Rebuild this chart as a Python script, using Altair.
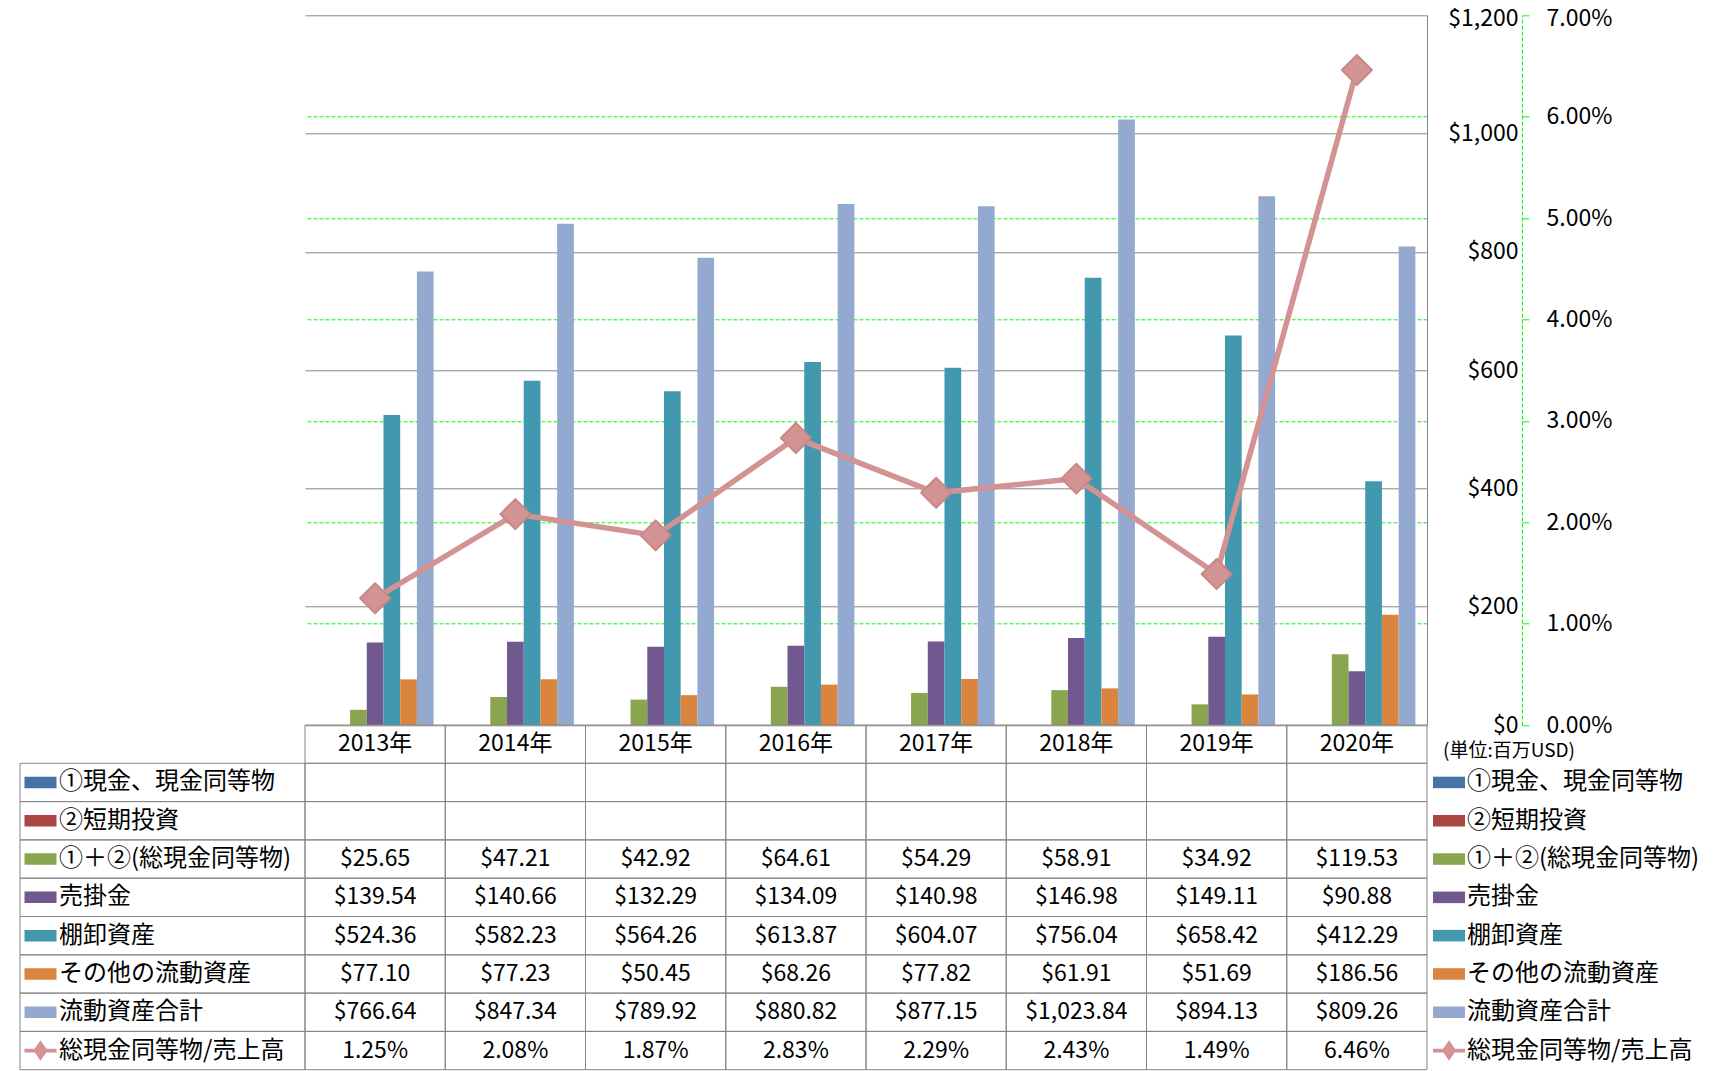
import altair as alt
import pandas as pd

# ---------------- data ----------------
years = ["2013年", "2014年", "2015年", "2016年", "2017年", "2018年", "2019年", "2020年"]
series_names = ["①現金、現金同等物", "②短期投資", "①＋②(総現金同等物)", "売掛金",
                "棚卸資産", "その他の流動資産", "流動資産合計"]
ratio_name = "総現金同等物/売上高"

cash_eq = [None] * 8
short_inv = [None] * 8
total_cash = [25.65, 47.21, 42.92, 64.61, 54.29, 58.91, 34.92, 119.53]
receivables = [139.54, 140.66, 132.29, 134.09, 140.98, 146.98, 149.11, 90.88]
inventory = [524.36, 582.23, 564.26, 613.87, 604.07, 756.04, 658.42, 412.29]
other_current = [77.10, 77.23, 50.45, 68.26, 77.82, 61.91, 51.69, 186.56]
total_current = [766.64, 847.34, 789.92, 880.82, 877.15, 1023.84, 894.13, 809.26]
cash_to_sales_pct = [1.25, 2.08, 1.87, 2.83, 2.29, 2.43, 1.49, 6.46]

usd_ticks = [0, 200, 400, 600, 800, 1000, 1200]
pct_ticks = [0, 1, 2, 3, 4, 5, 6, 7]
unit_note = "(単位:百万USD)"

# ---------------- styles ----------------
bar_colors = ["#4572A7", "#AA4643", "#89A54E", "#71588F", "#4198AF", "#DB843D", "#93A9CF"]
line_color = "#D39392"
marker_stroke = "#C98888"
GRAY = "#868686"
GREEN = "#00FF00"
FONT = "Noto Sans CJK JP"

# ---------------- layout ----------------
PLOT_W = 1122
PLOT_H = 709.7
ROW_H = 38.3
N_ROWS = 9                      # header + 8 data rows
COL_PX = PLOT_W / len(years)
LABEL_W = 285 / COL_PX          # label column width in column units
LEFT_SWATCH_X = -(305 - 40.5) / COL_PX
LEFT_TEXT_X = -(305 - 59) / COL_PX
RIGHT_SWATCH_X = (1449 - 305) / COL_PX
RIGHT_TEXT_X = (1467 - 305) / COL_PX
NOTE_X = (1443 - 305) / COL_PX
NOTE_Y = 0.69

RECT_PATH = "M-1,-0.36H1V0.36H-1Z"
LINE_PATH = "M-1,-0.12H1V0.12H-1Z M0,-0.64L0.44,0L0,0.64L-0.44,0Z"

# ---------------- frames ----------------
bar_values = [cash_eq, short_inv, total_cash, receivables, inventory, other_current, total_current]
bar_rows = []
for name, vals in zip(series_names, bar_values):
    for yr, v in zip(years, vals):
        bar_rows.append({"year": yr, "series": name, "value": v})
bar_df = pd.DataFrame(bar_rows)

ratio_df = pd.DataFrame({"year": years, "ratio": [v / 100 for v in cash_to_sales_pct]})

all_names = series_names + [ratio_name]
all_values = bar_values + [cash_to_sales_pct]
all_colors = bar_colors + [line_color]

cells = []
for c in range(len(years)):
    cells.append({"x0": c, "x1": c + 1, "y0": 0, "y1": 1})
for r in range(1, N_ROWS):
    cells.append({"x0": -LABEL_W, "x1": 0, "y0": r, "y1": r + 1})
    for c in range(len(years)):
        cells.append({"x0": c, "x1": c + 1, "y0": r, "y1": r + 1})
cells_df = pd.DataFrame(cells)

ctext = [{"x": c + 0.5, "y": 0.5, "t": yr} for c, yr in enumerate(years)]
for r, (name, vals) in enumerate(zip(all_names, all_values), start=1):
    for c, v in enumerate(vals):
        if v is None:
            continue
        t = f"{v:.2f}%" if name == ratio_name else f"${v:,.2f}"
        ctext.append({"x": c + 0.5, "y": r + 0.5, "t": t})
ctext_df = pd.DataFrame(ctext)

ltext = []
sw = []
for r, name in enumerate(all_names, start=1):
    kind = "line" if name == ratio_name else "bar"
    ltext.append({"x": LEFT_TEXT_X, "y": r + 0.5, "t": name})
    ltext.append({"x": RIGHT_TEXT_X, "y": r + 0.5, "t": name})
    sw.append({"x": LEFT_SWATCH_X, "y": r + 0.5, "series": name, "kind": kind})
    sw.append({"x": RIGHT_SWATCH_X, "y": r + 0.5, "series": name, "kind": kind})
ltext_df = pd.DataFrame(ltext)
sw_df = pd.DataFrame(sw)
note_df = pd.DataFrame([{"x": NOTE_X, "y": NOTE_Y, "t": unit_note}])

# ---------------- scales ----------------
color_scale = alt.Scale(domain=all_names, range=all_colors)
xs_t = alt.Scale(domain=[0, len(years)], nice=False, zero=False)
ys_t = alt.Scale(domain=[0, N_ROWS], range=[PLOT_H, PLOT_H + N_ROWS * ROW_H], nice=False, zero=False)

# ---------------- plot ----------------
bars = alt.Chart(bar_df).mark_bar().encode(
    x=alt.X("year:N", sort=years, title=None, axis=None,
            scale=alt.Scale(domain=years, paddingInner=0.166, paddingOuter=0.083)),
    xOffset=alt.XOffset("series:N", sort=series_names,
                        scale=alt.Scale(domain=series_names, paddingInner=0, paddingOuter=0)),
    y=alt.Y("value:Q", title=None,
            scale=alt.Scale(domain=[0, 1200], nice=False, zero=True),
            axis=alt.Axis(orient="right", values=usd_ticks, format="$,d", grid=True,
                          gridColor=GRAY, gridWidth=1, domain=True, domainColor=GRAY,
                          ticks=False, tickSize=0, labelPadding=91, labelAlign="right",
                          labelOffset={"condition": {"test": "datum.value >= 1200", "value": 3},
                                       "value": 0})),
    color=alt.Color("series:N", scale=color_scale, legend=None),
)

pct_scale = alt.Scale(domain=[0, 0.07], nice=False, zero=True)
pct_axis = alt.Axis(orient="right", offset=95, values=[v / 100 for v in pct_ticks],
                    format=".2%", grid=True, gridColor=GREEN, gridDash=[4, 2], gridWidth=1,
                    gridOpacity={"condition": {"test": "datum.value >= 0.0699 || datum.value <= 0.0001",
                                               "value": 0},
                                 "value": 1},
                    domain=True, domainColor=GREEN, domainDash=[4, 2],
                    ticks=True, tickColor=GREEN, tickSize=7, labelPadding=17,
                    labelAlign="left",
                    labelOffset={"condition": {"test": "datum.value >= 0.0699", "value": 3},
                                 "value": 0})
ratio_base = alt.Chart(ratio_df).encode(
    x=alt.X("year:N", sort=years),
    y=alt.Y("ratio:Q", title=None, scale=pct_scale, axis=pct_axis),
)
line = ratio_base.mark_line(color=line_color, strokeWidth=5.5)
pts = ratio_base.mark_point(shape="diamond", filled=True, size=900, opacity=1,
                            fill=line_color, stroke=marker_stroke, strokeWidth=2,
                            strokeJoin="round")

plot = alt.layer(bars, alt.layer(line, pts)).resolve_scale(y="independent")

# ---------------- data table ----------------
cell_layer = alt.Chart(cells_df).mark_rect(fillOpacity=0, stroke=GRAY, strokeWidth=1).encode(
    x=alt.X("x0:Q", scale=xs_t, axis=None), x2="x1:Q",
    y=alt.Y("y0:Q", scale=ys_t, axis=None), y2="y1:Q",
)
ctext_layer = alt.Chart(ctext_df).mark_text(font=FONT, fontSize=23, color="black",
                                            align="center", baseline="middle").encode(
    x=alt.X("x:Q", scale=xs_t, axis=None),
    y=alt.Y("y:Q", scale=ys_t, axis=None),
    text="t:N",
)
ltext_layer = alt.Chart(ltext_df).mark_text(font=FONT, fontSize=24, color="black",
                                            align="left", baseline="middle").encode(
    x=alt.X("x:Q", scale=xs_t, axis=None),
    y=alt.Y("y:Q", scale=ys_t, axis=None),
    text="t:N",
)
sw_layer = alt.Chart(sw_df).mark_point(filled=True, opacity=1, size=1024).encode(
    x=alt.X("x:Q", scale=xs_t, axis=None),
    y=alt.Y("y:Q", scale=ys_t, axis=None),
    color=alt.Color("series:N", scale=color_scale, legend=None),
    shape=alt.Shape("kind:N", scale=alt.Scale(domain=["bar", "line"], range=[RECT_PATH, LINE_PATH]),
                    legend=None),
)
note_layer = alt.Chart(note_df).mark_text(font=FONT, fontSize=19, color="black",
                                          align="left", baseline="middle").encode(
    x=alt.X("x:Q", scale=xs_t, axis=None),
    y=alt.Y("y:Q", scale=ys_t, axis=None),
    text="t:N",
)
table = alt.layer(cell_layer, ctext_layer, ltext_layer, sw_layer, note_layer)

chart = alt.layer(plot, table).resolve_scale(x="independent", y="independent").properties(
    width=PLOT_W, height=PLOT_H,
    padding={"left": 297, "top": 7.3, "right": 281, "bottom": 346},
    autosize=alt.AutoSizeParams(type="none"),
    background="white",
).configure_view(strokeWidth=0).configure_axis(
    labelFont=FONT, labelFontSize=23, labelColor="black",
)

chart.save("out.html", embed_options={"renderer": "svg", "actions": False})
